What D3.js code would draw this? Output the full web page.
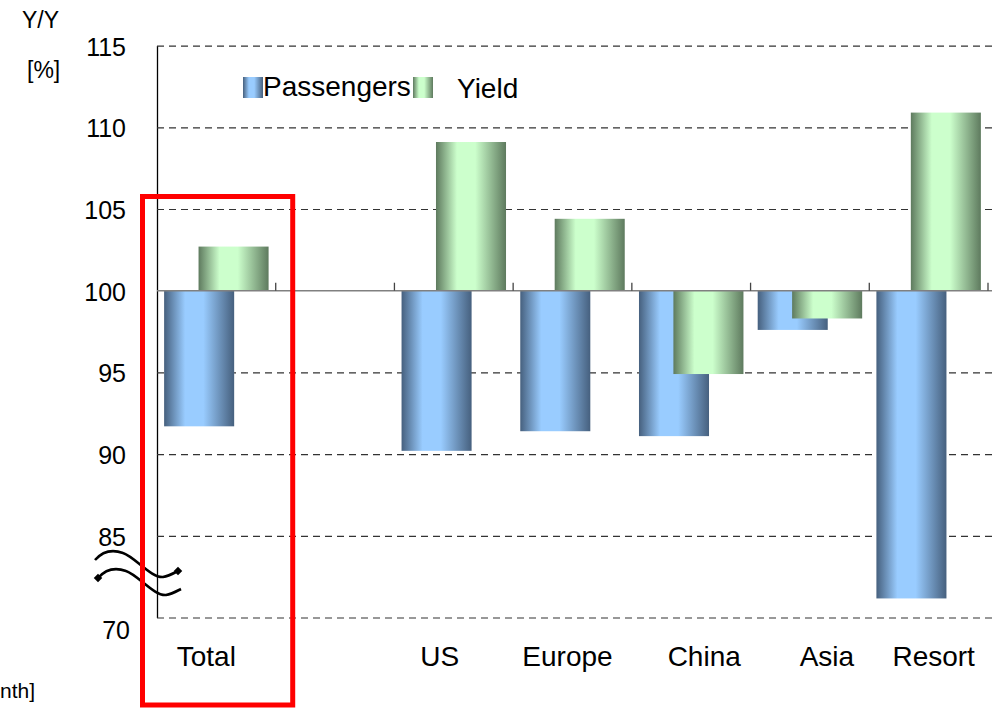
<!DOCTYPE html>
<html>
<head>
<meta charset="utf-8">
<script src="https://cdn.jsdelivr.net/npm/d3@7"></script>
<style>
  body { margin: 0; background: #fff; }
  svg { display: block; font-family: "Liberation Sans", Arial, sans-serif; }
  .grid .tick line { stroke: #333; stroke-dasharray: 7,5; stroke-width: 1.2; }
  .grid .tick text { font-size: 25px; fill: #000; }
  .cat-label { font-size: 28px; }
  .legend-label { font-size: 28px; }
</style>
</head>
<body>
<svg id="chart" width="992" height="710"></svg>
<script>
// data
const categories = ['Total', '', 'US', 'Europe', 'China', 'Asia', 'Resort'];
const passengers = [91.7, null, 90.2, 91.4, 91.1, 97.6, 73.5];
const yieldVals = [102.7, null, 109.1, 104.4, 94.9, 98.3, 110.9];
const yTicks = [70, 85, 90, 95, 100, 105, 110, 115];
const seriesNames = ['Passengers', 'Yield'];

// layout (text boxes in the original are placed by hand)
const labelShift = [-10, 0, -14, -5, 13, 17, 5];

const W = 992, H = 710;
const svg = d3.select('#chart');

const x = d3.scaleBand()
  .domain(categories)
  .range([157, 988])
  .padding(0);

// broken axis: 70..85 squeezed into one step
const y = d3.scaleLinear()
  .domain([70, 85, 115])
  .range([617.5, 535.8, 45.6]);

// gradients
const defs = svg.append('defs');
const makeGrad = (id, dark, light) => {
  const g = defs.append('linearGradient')
    .attr('id', id)
    .attr('x1', 0).attr('x2', 1).attr('y1', 0).attr('y2', 0);
  [[0, dark], [0.3, light], [0.56, light], [1, dark]].forEach(([o, c]) => {
    g.append('stop').attr('offset', o).attr('stop-color', c);
  });
};
makeGrad('gBlue', '#46607e', '#99ccff');
makeGrad('gGreen', '#5e7a5e', '#ccffcc');
const fills = ['url(#gBlue)', 'url(#gGreen)'];

// grid + y axis
const gGrid = svg.append('g')
  .attr('class', 'grid')
  .attr('transform', 'translate(157,0)')
  .call(d3.axisLeft(y)
    .tickValues(yTicks)
    .tickSizeInner(-(W - 157))
    .tickSizeOuter(0)
    .tickPadding(31)
    .tickFormat(d3.format('d')));
gGrid.select('.domain').attr('stroke', '#000').attr('stroke-width', 1.3);
gGrid.selectAll('.tick text').attr('dy', d => d === 70 ? '0.85em' : '0.38em')
  .attr('x', d => d === 70 ? -27 : -31);
gGrid.selectAll('.tick').filter(d => d === 100).select('line').style('display', 'none');

// bars
const bw = x.bandwidth();
const barW = bw * 0.59;
const pad = bw * 0.06;
const gBars = svg.append('g').attr('class', 'bars');
[passengers, yieldVals].forEach((vals, s) => {
  categories.forEach((c, i) => {
    const v = vals[i];
    if (v === null) return;
    const bx = s === 0 ? x(c) + pad : x(c) + bw - pad - barW;
    gBars.append('rect')
      .attr('x', bx)
      .attr('y', Math.min(y(v), y(100)))
      .attr('width', barW)
      .attr('height', Math.abs(y(v) - y(100)))
      .attr('fill', fills[s]);
  });
});

// category axis at 100
const gX = svg.append('g').attr('class', 'x-axis');
gX.append('line')
  .attr('x1', 157).attr('x2', W)
  .attr('y1', y(100)).attr('y2', y(100))
  .attr('stroke', '#808080').attr('stroke-width', 1.6);
categories.forEach((c, i) => {
  const tx = x(c) + bw;
  gX.append('line')
    .attr('x1', tx).attr('x2', tx)
    .attr('y1', y(100)).attr('y2', y(100) - 8)
    .attr('stroke', '#444').attr('stroke-width', 1.3);
  if (c) {
    gX.append('text')
      .attr('class', 'cat-label')
      .attr('x', x(c) + bw / 2 + labelShift[i])
      .attr('y', 666)
      .attr('text-anchor', 'middle')
      .text(c);
  }
});

// axis break symbol
const gBreak = svg.append('g').attr('class', 'break');
const wave = 'M0,0 C7,-8 17,-11 28,-7 C40,-3 56,18 68,17 C74,16 79,13 83,11';
[[95, 560], [98, 578]].forEach(([bx, by], k) => {
  const g = gBreak.append('g').attr('transform', `translate(${bx},${by})`);
  g.append('path')
    .attr('d', wave)
    .attr('fill', 'none')
    .attr('stroke', '#000')
    .attr('stroke-width', 2.6);
  const dx = k === 0 ? 83 : 0;
  const dy = k === 0 ? 11 : 0;
  g.append('rect')
    .attr('x', dx - 3).attr('y', dy - 3)
    .attr('width', 6).attr('height', 6)
    .attr('transform', `rotate(45,${dx},${dy})`)
    .attr('fill', '#000');
});

// legend
const gL = svg.append('g').attr('class', 'legend');
const legendPos = [[243, 263, 96], [413, 457, 98]];
seriesNames.forEach((n, s) => {
  const [sx, tx, ty] = legendPos[s];
  gL.append('rect')
    .attr('x', sx).attr('y', 77)
    .attr('width', 20).attr('height', 21)
    .attr('fill', fills[s]);
  gL.append('text')
    .attr('class', 'legend-label')
    .attr('x', tx).attr('y', ty)
    .text(n);
});

// axis titles
svg.append('text').attr('x', 22).attr('y', 28)
  .style('font-size', '23px').text('Y/Y');
svg.append('text').attr('x', 27).attr('y', 78)
  .style('font-size', '23px').text('[%]');
// only the tail of this label is inside the picture in the original
svg.append('text').attr('x', 0).attr('y', 698)
  .style('font-size', '21px').text('nth]');

// highlight box round Total
svg.append('rect')
  .attr('x', x('Total') - 14.5)
  .attr('y', y(105) - 12.5)
  .attr('width', bw + 31.5)
  .attr('height', H - 5 - (y(105) - 12.5))
  .attr('fill', 'none')
  .attr('stroke', '#ff0000')
  .attr('stroke-width', 5);
</script>
</body>
</html>
